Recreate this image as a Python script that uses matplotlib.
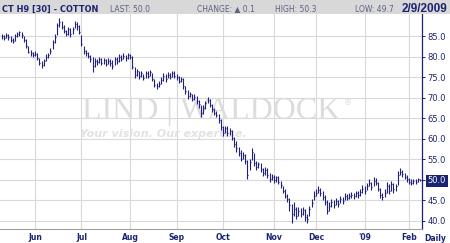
import numpy as np
import pandas as pd
import matplotlib
matplotlib.use("Agg")
import matplotlib.pyplot as plt
from matplotlib.patches import Rectangle

# trading calendar (weekdays minus exchange holidays)
start_day = "2008-05-09"
end_day = "2009-02-09"
holidays = ["2008-05-26", "2008-07-04", "2008-09-01", "2008-11-27",
            "2008-12-25", "2009-01-01", "2009-01-19"]

# daily bars, month by month (May 08 .. Feb 09)
closes = [
    85.0, 84.6, 85.2, 84.7, 84.1, 83.8, 85.0, 85.6, 85.9, 85.2, 84.0, 82.6, 81.2, 80.9, 80.5,
    80.7, 79.6, 78.4, 78.0, 79.0, 79.8, 80.5, 81.3, 83.5, 84.8, 87.6, 88.4, 87.2, 86.3, 85.5,
    86.7, 85.4, 86.8, 87.9, 87.4, 86.0,
    83.0, 81.3, 80.8, 80.2, 79.4, 77.6, 79.0, 78.6, 79.3, 78.4, 79.1, 78.2, 78.9, 78.5, 77.8,
    79.5, 79.0, 79.8, 79.4, 80.2, 79.7, 80.3,
    80.0, 77.5, 75.6, 76.4, 75.3, 76.0, 74.9, 75.9, 75.4, 76.2, 74.5, 73.2, 72.8, 73.4, 74.3,
    75.2, 74.6, 75.6, 75.0, 76.0, 75.4,
    75.0, 74.1, 74.6, 72.8, 71.6, 70.4, 70.9, 69.8, 70.2, 69.1, 68.5, 66.2, 67.5, 68.8, 69.5,
    68.3, 67.2, 66.3, 65.9, 64.6, 62.8,
    61.5, 62.6, 61.4, 62.0, 60.3, 58.8, 57.7, 56.6, 55.2, 56.1, 54.6, 51.2, 54.3, 56.8, 54.0,
    53.2, 53.8, 52.7, 51.6, 52.4, 51.1, 50.2, 50.8,
    49.9, 50.6, 49.4, 48.7, 47.3, 46.2, 45.4, 44.0, 41.6, 42.9, 41.2, 42.5, 41.8, 42.6, 41.0,
    40.6, 42.9, 44.3, 46.1,
    46.9, 47.6, 46.8, 45.9, 44.7, 42.4, 43.6, 44.5, 43.9, 44.8, 44.2, 45.3, 44.9, 46.2, 45.6,
    46.0, 46.4, 46.0, 46.7, 46.3, 47.0, 47.8,
    47.4, 48.6, 49.2, 48.3, 49.8, 49.3, 47.9, 46.4, 45.8, 46.9, 48.6, 47.2, 48.9, 47.7, 48.4,
    51.3, 52.0, 51.5, 50.8, 50.3,
    49.6, 49.2, 49.8, 49.6, 50.1, 50.0,
]
highs = [
    85.6, 85.3, 85.7, 85.4, 84.9, 84.5, 85.4, 86.1, 86.3, 86.0, 85.1, 84.3, 82.7, 81.7, 81.2,
    81.3, 80.8, 79.7, 78.9, 79.5, 80.6, 81.0, 82.0, 84.0, 85.6, 88.3, 89.4, 88.7, 87.6, 86.4,
    87.2, 86.9, 87.3, 88.6, 88.4, 87.6,
    85.2, 82.6, 81.6, 81.1, 80.5, 79.8, 79.7, 79.5, 79.9, 79.6, 79.7, 79.4, 79.6, 79.5, 79.1,
    80.0, 79.9, 80.6, 80.4, 80.9, 80.5, 80.8,
    80.6, 80.2, 77.4, 77.0, 76.6, 76.5, 75.8, 76.5, 76.4, 76.8, 75.9, 74.6, 73.6, 74.1, 75.0,
    75.9, 75.7, 76.2, 76.0, 76.5, 76.4,
    75.8, 75.3, 75.1, 74.7, 72.9, 71.8, 71.5, 71.0, 70.9, 70.4, 69.4, 68.3, 68.2, 69.3, 70.1,
    69.6, 68.5, 67.5, 66.8, 66.0, 64.7,
    63.1, 63.2, 63.0, 62.7, 62.1, 60.5, 59.4, 58.0, 57.3, 56.9, 56.4, 54.8, 55.2, 57.8, 56.6,
    54.5, 54.4, 54.1, 53.0, 53.2, 52.8, 51.6, 51.5,
    51.2, 51.0, 50.9, 49.7, 48.6, 47.7, 46.5, 45.6, 44.2, 44.6, 43.5, 43.4, 43.1, 43.5, 42.9,
    41.8, 43.6, 45.4, 47.2,
    47.8, 48.5, 48.1, 47.2, 46.3, 45.1, 44.7, 45.3, 45.0, 45.6, 45.2, 46.1, 45.8, 46.9, 46.6,
    46.8, 47.1, 46.9, 47.4, 47.2, 47.8, 48.7,
    48.4, 49.3, 50.1, 49.5, 50.6, 50.4, 49.6, 48.0, 46.9, 47.8, 49.4, 48.9, 49.7, 49.2, 49.0,
    52.1, 52.8, 52.4, 51.6, 51.1,
    50.4, 50.2, 50.3, 50.2, 50.5, 50.3,
]
lows = [
    84.4, 84.1, 84.5, 84.0, 83.6, 83.3, 83.9, 84.8, 85.1, 84.6, 83.5, 82.1, 80.8, 80.2, 79.9,
    80.1, 79.2, 77.9, 77.3, 77.8, 78.9, 79.7, 80.6, 81.8, 83.4, 85.2, 87.3, 86.6, 85.7, 84.9,
    85.3, 84.8, 85.6, 86.9, 86.5, 85.4,
    82.6, 80.6, 80.1, 79.6, 78.8, 76.2, 77.5, 78.0, 78.4, 77.9, 78.2, 77.6, 78.1, 77.8, 77.1,
    77.9, 78.3, 78.8, 78.9, 79.3, 79.0, 79.4,
    79.4, 77.0, 74.8, 75.2, 74.6, 75.1, 74.2, 74.8, 74.8, 75.3, 74.0, 72.6, 72.2, 72.5, 73.4,
    74.1, 73.9, 74.7, 74.5, 75.1, 74.7,
    74.4, 73.6, 73.9, 72.2, 70.9, 69.8, 70.1, 69.1, 69.4, 68.5, 67.6, 65.4, 66.0, 67.3, 68.7,
    67.8, 66.6, 65.7, 65.2, 63.9, 62.1,
    60.6, 61.4, 60.7, 60.9, 59.8, 58.1, 56.9, 55.7, 54.6, 55.0, 53.8, 50.1, 52.4, 54.9, 53.5,
    52.5, 52.8, 51.9, 51.0, 51.2, 50.4, 49.5, 49.9,
    49.2, 49.6, 48.9, 48.0, 46.7, 45.5, 44.6, 42.5, 39.5, 41.2, 40.4, 41.3, 41.0, 41.5, 40.1,
    39.6, 41.1, 43.4, 45.2,
    46.2, 46.7, 46.1, 45.2, 44.0, 41.6, 42.5, 43.4, 43.2, 43.9, 43.5, 44.3, 44.2, 45.1, 45.0,
    45.3, 45.6, 45.4, 45.8, 45.7, 46.1, 46.9,
    46.6, 47.5, 48.4, 47.6, 48.6, 48.7, 47.2, 45.6, 45.2, 45.8, 46.8, 46.5, 47.4, 46.9, 47.3,
    48.7, 51.1, 50.8, 50.1, 49.6,
    49.1, 48.8, 49.0, 49.1, 49.4, 49.7,
]

month_labels = ["Jun", "Jul", "Aug", "Sep", "Oct", "Nov", "Dec", "'09", "Feb"]
price_ticks = [40, 45, 50, 55, 60, 65, 70, 75, 80, 85]
last_price = 50.0

navy = "#1b2470"
bar_col = "#20207e"
grid_col = "#d9d9d9"

days = pd.bdate_range(start_day, end_day)
days = days[~days.isin(pd.to_datetime(holidays))]
idx = np.arange(len(days))

# first trading day of each month after the first
month_id = days.year * 12 + days.month
month_pos = [i for i in range(1, len(days)) if month_id[i] != month_id[i - 1]]

fig = plt.figure(figsize=(4.5, 2.43), dpi=100)
fig.patch.set_facecolor("white")

# header strip
fig.patches.append(Rectangle((0, 1 - 14 / 243), 1, 14 / 243, transform=fig.transFigure,
                             facecolor="#d8d8d8", edgecolor="none", zorder=0))
ty = 1 - 11.5 / 243
fig.text(2 / 450, ty, "CT H9 [30] - COTTON", family="DejaVu Sans", stretch="condensed",
         weight="bold", size=6.6, color=navy)
hdr = dict(size=5.5, color="#5d6285", family="DejaVu Sans")
fig.text(110 / 450, ty, "LAST: 50.0", **hdr)
fig.text(197 / 450, ty, "CHANGE: \u25b2 0.1", **hdr)
fig.text(275 / 450, ty, "HIGH: 50.3", **hdr)
fig.text(355 / 450, ty, "LOW: 49.7", **hdr)
fig.text(447 / 450, ty, "2/9/2009", ha="right", family="Liberation Sans", weight="bold",
         size=8.5, color=navy)

ax = fig.add_axes([0, 14 / 243, 422 / 450, 215 / 243])
ax.set_facecolor("white")

# watermark
ax.text(0.5, 0.512, "LIND | WALDOCK", transform=ax.transAxes, ha="center", va="baseline",
        family="Liberation Serif", size=23, color="#dcdcdc", zorder=1)
ax.text(0.815, 0.575, "\u00ae", transform=ax.transAxes, ha="left", va="baseline",
        family="DejaVu Sans", size=6, color="#dcdcdc", zorder=1)
ax.text(0.19, 0.428, "Your vision. Our expertise.", transform=ax.transAxes, ha="left",
        va="baseline", family="DejaVu Sans", style="italic", weight="bold", size=8,
        color="#e2e2e2", zorder=1)

# HLC bars
ax.vlines(idx, lows, highs, color=bar_col, lw=0.8, zorder=3)
ax.hlines(closes, idx, idx + 0.45, color=bar_col, lw=0.8, zorder=3)

ax.set_xlim(-0.81, 189.9)
ax.set_ylim(38.05, 90.37)

ax.set_xticks(month_pos, month_labels[:len(month_pos)])
ax.set_yticks(price_ticks, [f"{v:.1f}" for v in price_ticks])
ax.grid(True, color=grid_col, lw=0.8, zorder=0)
ax.set_axisbelow(True)

ax.yaxis.tick_right()
ax.tick_params(axis="y", length=2, width=0.7, color=navy, labelsize=6, labelcolor=navy, pad=2)
ax.tick_params(axis="x", length=0, labelsize=5.5, labelcolor=navy, pad=3)
for t in ax.get_xticklabels():
    t.set_fontweight("bold")

for t in ax.get_yticklabels():
    if t.get_text() == f"{last_price:.1f}":
        t.set_color("white")
        t.set_bbox(dict(facecolor=navy, edgecolor="none", pad=1.2))

for s in ["left", "top"]:
    ax.spines[s].set_visible(False)
ax.spines["right"].set_color(navy)
ax.spines["right"].set_linewidth(0.9)
ax.spines["bottom"].set_color("#a0a0a0")
ax.spines["bottom"].set_linewidth(0.8)

fig.text(435 / 450, 1 - 240.5 / 243, "Daily", ha="center", size=5.5, weight="bold", color=navy)

fig.savefig("out.png", dpi=100)
